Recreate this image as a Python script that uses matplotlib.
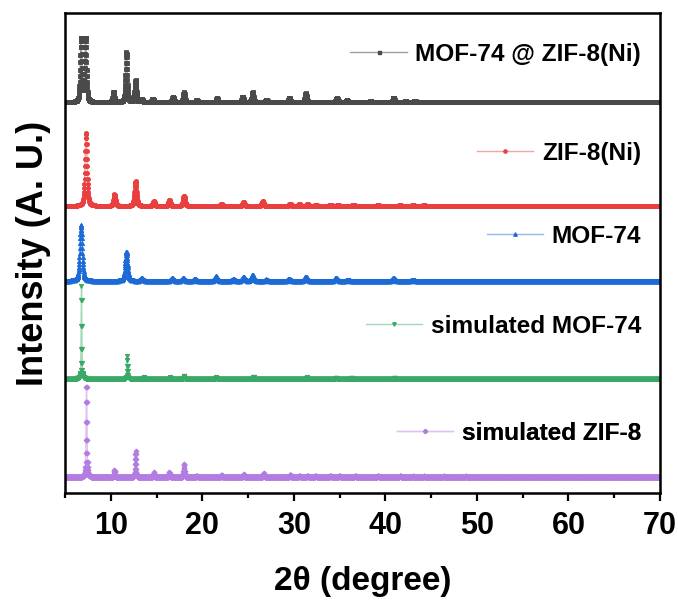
import numpy as np
import matplotlib.pyplot as plt
from matplotlib.lines import Line2D

plt.rcParams['font.family'] = ['Liberation Sans', 'DejaVu Sans']
plt.rcParams['font.weight'] = 'bold'

# series labels, top to bottom
labels = ["MOF-74 @ ZIF-8(Ni)", "ZIF-8(Ni)", "MOF-74", "simulated MOF-74", "simulated ZIF-8"]
offsets = [81.4, 59.8, 44.2, 23.8, 3.3]

# peak lists (2theta, height above baseline)
composite_pos = [6.75, 7.25, 10.3, 11.7, 12.7, 13.4, 14.6, 16.8, 18.0, 19.4, 21.6, 24.4, 25.5,
                 27.0, 29.5, 31.3, 34.7, 35.8, 38.4, 40.9, 42.2, 43.2]
composite_hgt = [13.3, 13.3, 2.1, 10.4, 4.6, 0.6, 0.8, 1.2, 2.1, 0.5, 0.9, 1.2, 2.1,
                 0.5, 1.0, 1.9, 1.0, 0.5, 0.3, 1.0, 0.4, 0.4]

zif8ni_pos = [7.3, 10.4, 12.7, 14.7, 16.4, 18.0, 22.1, 24.5, 26.6, 29.6, 30.6, 31.5, 32.4,
              34.0, 34.8, 36.5, 39.2, 41.6, 43.0, 44.2]
zif8ni_hgt = [15.3, 2.4, 5.2, 1.0, 1.2, 2.2, 0.5, 0.8, 1.0, 0.5, 0.4, 0.4, 0.3,
              0.3, 0.3, 0.3, 0.2, 0.2, 0.2, 0.2]

mof74_pos = [6.75, 11.7, 13.4, 16.7, 17.9, 19.2, 21.5, 23.4, 24.5, 25.5, 27.0, 29.5, 31.3,
             34.6, 35.9, 40.9, 43.0]
mof74_hgt = [11.7, 6.1, 0.6, 0.6, 0.6, 0.4, 1.0, 0.4, 0.8, 1.2, 0.3, 0.5, 0.9,
             0.6, 0.3, 0.7, 0.3]

sim_mof74_pos = [6.8, 11.8, 13.6, 16.5, 18.0, 21.5, 25.6, 31.4, 34.6, 36.3, 41.0]
sim_mof74_hgt = [19.3, 4.7, 0.3, 0.3, 0.6, 0.3, 0.4, 0.3, 0.2, 0.2, 0.2]

sim_zif8_pos = [7.35, 10.4, 12.7, 14.7, 16.4, 18.0, 19.4, 22.1, 24.5, 26.7, 29.6, 30.6, 31.5,
                32.4, 34.0, 35.0, 36.7, 39.2, 41.6, 43.0, 44.2, 46.4, 48.8]
sim_zif8_hgt = [19.2, 1.5, 5.4, 1.0, 1.0, 2.7, 0.3, 0.4, 0.6, 0.8, 0.5, 0.3, 0.3,
                0.3, 0.3, 0.3, 0.3, 0.3, 0.3, 0.2, 0.2, 0.2, 0.2]

peaks = [(composite_pos, composite_hgt), (zif8ni_pos, zif8ni_hgt), (mof74_pos, mof74_hgt),
         (sim_mof74_pos, sim_mof74_hgt), (sim_zif8_pos, sim_zif8_hgt)]
widths = [0.22, 0.26, 0.3, 0.09, 0.12]

marker_colors = ['#4a4a4a', '#e8403f', '#1c6ad6', '#3aa866', '#b27ce0']
line_colors = ['#a0a0a0', '#f2a6a6', '#93b8ee', '#a3d8b8', '#dcc2f2']
markers = ['s', 'o', '^', 'v', 'D']
msizes = [2.7, 2.9, 3.1, 3.1, 2.6]


def profile(x, pos, hgt, w):
    y = np.zeros_like(x)
    for c, h in zip(pos, hgt):
        d = (x - c) / (w / 2)
        y += h * (0.5 / (1 + d ** 2) + 0.5 * np.exp(-np.log(2) * d ** 2))
    return y


two_theta = np.arange(5.0, 70.0001, 0.02)

fig = plt.figure(figsize=(6.78, 6.02), dpi=100)
ax = fig.add_axes([0.0959, 0.181, 0.8776, 0.797])

for i in range(len(labels)):
    pos, hgt = peaks[i]
    y = offsets[i] + profile(two_theta, pos, hgt, widths[i])
    ax.plot(two_theta, y, color=line_colors[i], lw=1.0, marker=markers[i], ms=msizes[i],
            mfc=marker_colors[i], mec=marker_colors[i], mew=0.6)

# one legend per trace, sitting right above it
leg_y = [0.915, 0.708, 0.535, 0.348, 0.124]
for i in range(len(labels)):
    h = Line2D([], [], color=line_colors[i], lw=1.0, marker=markers[i], ms=msizes[i] * 0.8,
               mfc=marker_colors[i], mec=marker_colors[i])
    leg = ax.legend([h], [labels[i]], loc='center right', bbox_to_anchor=(0.968, leg_y[i]),
                    frameon=False, fontsize=17.6, handlelength=2.3, handletextpad=0.35,
                    borderaxespad=0, borderpad=0)
    ax.add_artist(leg)

ax.set_xlim(5, 70)
ax.set_ylim(0, 100)
ax.set_xticks([10, 20, 30, 40, 50, 60, 70])
ax.set_xticks(np.arange(5, 70, 10), minor=True)
ax.set_yticks([])
ax.tick_params(axis='x', which='major', direction='out', length=6, width=1.6, labelsize=22, pad=7)
ax.tick_params(axis='x', which='minor', direction='out', length=3.5, width=1.6)
for s in ax.spines.values():
    s.set_linewidth(1.8)

ax.set_xlabel("2θ (degree)", fontsize=24, fontweight='bold', labelpad=18)
ax.set_ylabel("Intensity (A. U.)", fontsize=26, fontweight='bold', labelpad=10)

fig.savefig("out.png", dpi=100)
